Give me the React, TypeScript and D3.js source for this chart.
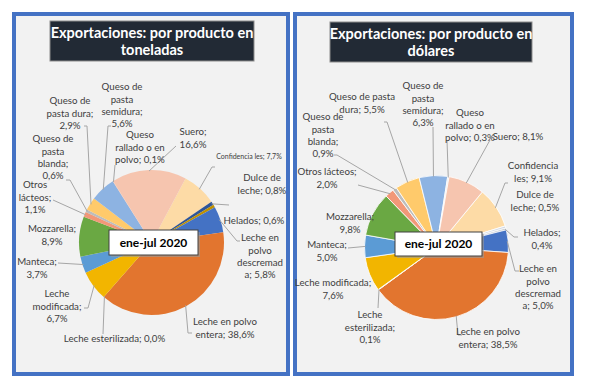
import React from "react";
import * as d3 from "d3";

const categories = [
  "Confidenciales", "Dulce de leche", "Helados", "Leche en polvo descremada",
  "Leche en polvo entera", "Leche esterilizada", "Leche modificada", "Manteca",
  "Mozzarella", "Otros lácteos", "Queso de pasta blanda", "Queso de pasta dura",
  "Queso de pasta semidura", "Queso rallado o en polvo", "Suero",
];
const tonsShare = [7.7, 0.8, 0.6, 5.8, 38.6, 0.0, 6.7, 3.7, 8.9, 1.1, 0.6, 2.9, 5.6, 0.1, 16.6];
const usdShare = [9.1, 0.5, 0.4, 5.0, 38.5, 0.1, 7.6, 5.0, 9.8, 2.0, 0.9, 5.5, 6.3, 0.3, 8.1];
const periodLabel = "ene-jul 2020";
const leftTitle = ["Exportaciones: por producto en", "toneladas"];
const rightTitle = ["Exportaciones: por producto en", "dólares"];

const leftColors = ["#FDDBA6", "#2F5597", "#BF9000", "#4472C4", "#E2752F", "#A5A5A5", "#F2B500", "#5B9BD5", "#6AA843", "#F29878", "#BDBDBD", "#FFCA6B", "#8DB3E2", "#F4C3AE", "#F6C5AF"];
const rightColors = ["#FDDBA6", "#D4DBE5", "#BFC6CF", "#4472C4", "#E2752F", "#A5A5A5", "#F2B500", "#5B9BD5", "#6AA843", "#F29878", "#BDBDBD", "#FFCA6B", "#8DB3E2", "#E8E8E8", "#F6C5AF"];

type LabelSpec = { lines: string[]; x: number; y: number; fs?: number; leader?: number[][] };

const leftLabels: LabelSpec[] = [
  { lines: ["Confidencia les; {v}"], x: 249, y: 157, fs: 7, leader: [[212, 167], [215, 167]] },
  { lines: ["Dulce de", "leche; {v}"], x: 262, y: 178, leader: [[229, 205]] },
  { lines: ["Helados; {v}"], x: 254, y: 221 },
  { lines: ["Leche en", "polvo", "descremad", "a; {v}"], x: 260, y: 238, leader: [[237, 241], [240, 241]] },
  { lines: ["Leche en polvo", "entera; {v}"], x: 225, y: 322, leader: [[188, 333], [192, 333]] },
  { lines: ["Leche esterilizada; {v}"], x: 114.5, y: 339, leader: [[103, 334]] },
  { lines: ["Leche", "modificada;", "{v}"], x: 57, y: 294, leader: [[88, 308], [84, 308]] },
  { lines: ["Manteca;", "{v}"], x: 37, y: 262, leader: [[58, 263]] },
  { lines: ["Mozzarella;", "{v}"], x: 52, y: 229 },
  { lines: ["Otros", "lácteos;", "{v}"], x: 35, y: 185, leader: [[53, 200]] },
  { lines: ["Queso de", "pasta", "blanda;", "{v}"], x: 53, y: 139, leader: [[70, 180], [66, 180]] },
  { lines: ["Queso de", "pasta dura;", "{v}"], x: 70, y: 101, leader: [[87, 126], [84, 126]] },
  { lines: ["Queso de", "pasta", "semidura;", "{v}"], x: 122, y: 87, leader: [[108, 126], [111, 126]] },
  { lines: ["Queso", "rallado o en", "polvo; {v}"], x: 140, y: 135, leader: [[115, 165]] },
  { lines: ["Suero;", "{v}"], x: 193, y: 132, leader: [[176, 146]] },
];

const rightLabels: LabelSpec[] = [
  { lines: ["Confidencia", "les; {v}"], x: 533, y: 166, leader: [[505, 183], [508, 183]] },
  { lines: ["Dulce de", "leche; {v}"], x: 535, y: 195 },
  { lines: ["Helados;", "{v}"], x: 542, y: 233, leader: [[514, 237], [518, 237]] },
  { lines: ["Leche en", "polvo", "descremad", "a; {v}"], x: 538, y: 269, leader: [[515, 271], [519, 271]] },
  { lines: ["Leche en polvo", "entera; {v}"], x: 488, y: 332, leader: [[458, 335], [462, 335]] },
  { lines: ["Leche", "esterilizada;", "{v}"], x: 370, y: 315, leader: [[378, 308]] },
  { lines: ["Leche modificada;", "{v}"], x: 333, y: 283 },
  { lines: ["Manteca;", "{v}"], x: 327, y: 245, leader: [[348, 248]] },
  { lines: ["Mozzarella;", "{v}"], x: 350, y: 217 },
  { lines: ["Otros lácteos;", "{v}"], x: 327, y: 172, leader: [[358, 185]] },
  { lines: ["Queso de", "pasta", "blanda;", "{v}"], x: 323, y: 117, leader: [[337, 155], [334, 155]] },
  { lines: ["Queso de pasta", "dura; {v}"], x: 362, y: 97, leader: [[387, 122], [384, 122]] },
  { lines: ["Queso de", "pasta", "semidura;", "{v}"], x: 423, y: 86, leader: [[433, 127]] },
  { lines: ["Queso", "rallado o en", "polvo; {v}"], x: 470, y: 113, leader: [[447, 140]] },
  { lines: ["Suero; {v}"], x: 518, y: 137, leader: [[490, 140]] },
];

const FONT = "Lato, 'Open Sans', sans-serif";
const TEXT = "#404040";
const LINE = "#A6A6A6";

const fmt = (v: number) => v.toFixed(1).replace(".", ",") + "%";

type PanelProps = {
  px: number; pw: number;
  title: string[]; titleBox: number[];
  values: number[]; colors: string[];
  cx: number; cy: number; r: number; startDeg: number;
  labels: LabelSpec[]; box: number[]; sliceStroke: number;
};

function Panel(p: PanelProps) {
  const start = (p.startDeg * Math.PI) / 180;
  const pie = d3.pie<number>().sort(null).value((d) => d).startAngle(start).endAngle(start + 2 * Math.PI);
  const arcs = pie(p.values);
  const arc = d3.arc<d3.PieArcDatum<number>>().innerRadius(0).outerRadius(p.r);
  const [tx, ty, tw, th] = p.titleBox;
  const [bx, by, bw, bh] = p.box;
  return (
    <g>
      <rect x={p.px} y={14} width={p.pw} height={360} fill="#F2F2F2" stroke="#4472C4" strokeWidth={4} />
      <rect x={tx} y={ty} width={tw} height={th} fill="#222A35" stroke="#8C8C8C" strokeWidth={1} />
      {p.title.map((t, i) => (
        <text key={i} x={tx + tw / 2} y={ty + 17 + i * 17} textAnchor="middle" fill="#fff"
          fontFamily={FONT} fontWeight="bold" fontSize={14.5}>{t}</text>
      ))}
      <g transform={`translate(${p.cx},${p.cy})`}>
        {arcs.map((a, i) => (
          <path key={i} d={arc(a) || ""} fill={p.colors[i]} stroke="#fff" strokeWidth={a.value > 0 ? p.sliceStroke : 0} />
        ))}
      </g>
      {p.labels.map((l, i) => {
        if (!l.leader) return null;
        const a = arcs[i];
        const mid = (a.startAngle + a.endAngle) / 2;
        const sx = p.cx + Math.sin(mid) * (p.r - 1);
        const sy = p.cy - Math.cos(mid) * (p.r - 1);
        const pts = [[sx, sy], ...l.leader];
        const line = d3.line()(pts as [number, number][]);
        return <path key={"l" + i} d={line || ""} fill="none" stroke={LINE} strokeWidth={1} />;
      })}
      {p.labels.map((l, i) => {
        const fs = l.fs || 9.7;
        const lh = 12.2;
        return (
          <text key={"t" + i} x={l.x} y={l.y} textAnchor="middle" fill={TEXT} fontFamily={FONT} fontSize={fs}>
            {l.lines.map((s, j) => (
              <tspan key={j} x={l.x} y={l.y + j * lh} dy="0.35em">{s.replace("{v}", fmt(p.values[i]))}</tspan>
            ))}
          </text>
        );
      })}
      <rect x={bx + 2} y={by + 2} width={bw} height={bh} fill="#9a9a9a" opacity={0.6} />
      <rect x={bx} y={by} width={bw} height={bh} fill="#fff" stroke="#404040" strokeWidth={1} />
      <text x={bx + bw / 2} y={by + bh / 2} dy="0.36em" textAnchor="middle" fill="#000"
        fontFamily={FONT} fontWeight="bold" fontSize={12}>{periodLabel}</text>
    </g>
  );
}

export default function App() {
  return (
    <svg width={591} height={386} style={{ position: "absolute", left: 0, top: 0, background: "#fff" }}>
      <Panel px={14} pw={274} title={leftTitle} titleBox={[50, 21, 204, 40]}
        values={tonsShare} colors={leftColors} cx={151.5} cy={242.5} r={72.5} startDeg={28}
        labels={leftLabels} box={[109, 230, 89, 25]} sliceStroke={0} />
      <Panel px={295} pw={277} title={rightTitle} titleBox={[330, 22, 202, 40]}
        values={usdShare} colors={rightColors} cx={436.5} cy={247.5} r={72} startDeg={39.5}
        labels={rightLabels} box={[395, 232, 87, 24]} sliceStroke={0.8} />
    </svg>
  );
}
